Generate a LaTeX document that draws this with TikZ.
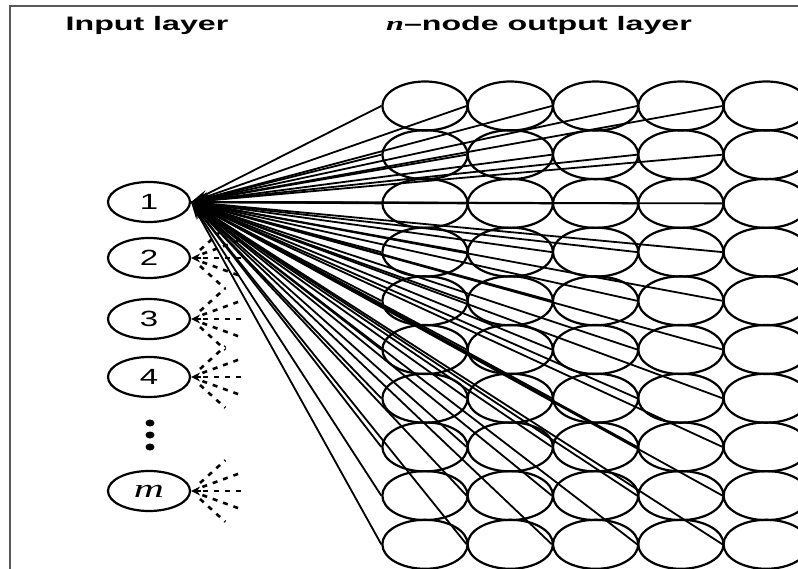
\documentclass[tikz,border=0pt]{standalone}
\usepackage{fontspec}
\usetikzlibrary{shapes.geometric,arrows.meta}
% wide fonts for headings and node labels
\newfontfamily\headfont[FakeStretch=1.65]{Liberation Sans}
\newfontfamily\headserif[FakeStretch=1.65]{Liberation Serif}
\newfontfamily\labfont[FakeStretch=1.5]{Liberation Sans}
\newfontfamily\labserif[FakeStretch=1.6]{Liberation Serif}

\begin{document}
\begin{tikzpicture}[x=1pt,y=-1pt,
  innode/.style={ellipse,draw,line width=2.2pt,minimum width=82pt,minimum height=40pt,
    inner sep=0pt,font=\labfont\fontsize{22}{22}\selectfont},
  outnode/.style={ellipse,draw,line width=2.2pt,minimum width=85.3pt,minimum height=49pt,inner sep=0pt},
  fan/.style={line width=1.8pt,-{Stealth[length=18pt,width=8pt]}},
  spraytip/.style={line width=1.2pt,-{Stealth[length=9pt,width=9pt]}},
  spray/.style={line width=2.6pt,dash pattern=on 5pt off 6pt},
  dotnode/.style={ellipse,fill,inner sep=0pt,minimum width=9pt,minimum height=7pt},
  frameline/.style={draw=black!65,line width=1.6pt},
  title/.style={font=\headfont\bfseries\fontsize{19.5}{20}\selectfont,anchor=base,inner sep=0pt}]
\clip (0,0) rectangle (798,569);
\draw[frameline] (10,569) -- (10,6) -- (798,6);

% headings
\node[title] (tin) at (147,31) {Input layer};
\node[title] (tout) at (539,31) {{\headserif\itshape n}–node output layer};

% output layer: 10 rows by 5 columns
\foreach \r in {1,...,10}
  \foreach \c in {1,...,5}
    \node[outnode] (o\r-\c) at ({425+85.3*(\c-1)},{106+48.7*(\r-1)}) {};

% input layer
\node[innode] (in1) at (149,202) {1};
\node[innode] (in2) at (149,258) {2};
\node[innode] (in3) at (149,319) {3};
\node[innode] (in4) at (149,377) {4};
\node[innode,font=\labserif\itshape\fontsize{26}{26}\selectfont] (inm) at (149,491) {m};
\node[dotnode] (d1) at (150,423) {};
\node[dotnode] (d2) at (150,435) {};
\node[dotnode] (d3) at (150,447) {};

% weights from input 1 to every output node
\foreach \r in {1,...,10}
  \foreach \c in {1,...,5}
    \draw[fan] (o\r-\c.west) -- (in1.east);

% truncated weight bundles of the other inputs
\foreach \n in {in2,in3,in4,inm}{
  \draw[spraytip] (\n.east) ++(10,0) -- (\n.east);
  \foreach \a/\l in {42/34,20/38,0/38,-20/38,-42/34}
    \draw[spray] (\n.east) ++(\a:12) -- ++(\a:\l);
}
\end{tikzpicture}
\end{document}
